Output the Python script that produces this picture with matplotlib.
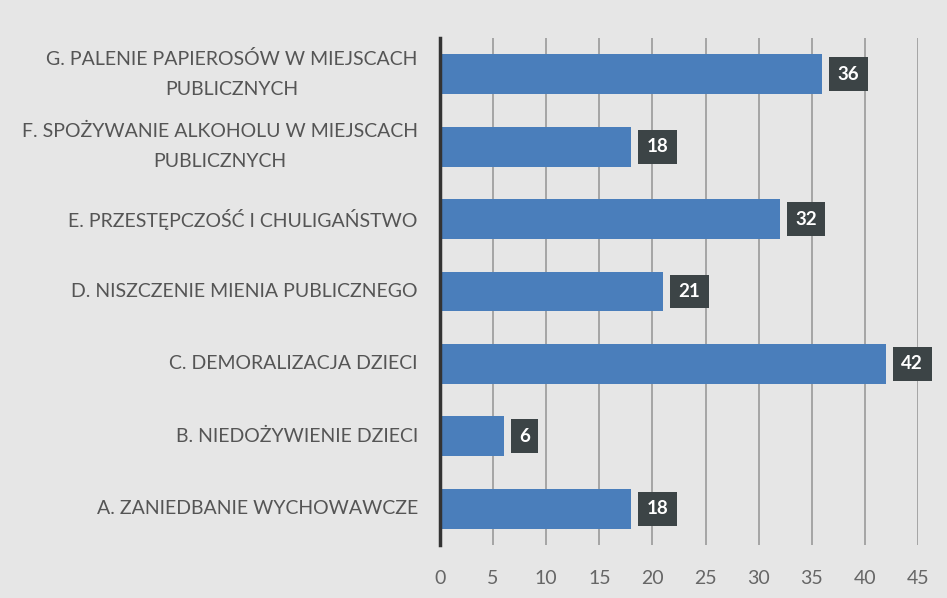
import matplotlib
matplotlib.use("Agg")
import matplotlib.pyplot as plt

categories = [
    "A. ZANIEDBANIE WYCHOWAWCZE",
    "B. NIEDOŻYWIENIE DZIECI",
    "C. DEMORALIZACJA DZIECI",
    "D. NISZCZENIE MIENIA PUBLICZNEGO",
    "E. PRZESTĘPCZOŚĆ I CHULIGAŃSTWO",
    "F. SPOŻYWANIE ALKOHOLU W MIEJSCACH\nPUBLICZNYCH",
    "G. PALENIE PAPIEROSÓW W MIEJSCACH\nPUBLICZNYCH",
]
values = [18, 6, 42, 21, 32, 18, 36]
xticks = [0, 5, 10, 15, 20, 25, 30, 35, 40, 45]

plt.rcParams['font.family'] = ['Lato', 'DejaVu Sans']

fig = plt.figure(figsize=(9.47, 5.98), dpi=100, facecolor="#e6e6e6")
ax = fig.add_axes([0.4646, 0.0886, 0.5048, 0.8479])
ax.set_facecolor("#e6e6e6")

ypos = list(range(len(categories)))
ax.barh(ypos, values, height=0.55, color="#4a7ebb", zorder=3)

for y, v in zip(ypos, values):
    ax.annotate(str(v), xy=(v, y), xytext=(11, 0), textcoords="offset points",
                ha="left", va="center", color="white", fontsize=13.5, fontweight="bold",
                bbox=dict(boxstyle="square,pad=0.45", fc="#3c4446", ec="none"), zorder=4)

ax.set_xlim(0, 45)
ax.set_ylim(-0.5, 6.5)
ax.set_xticks(xticks)
ax.set_yticks(ypos)
ax.set_yticklabels(categories, multialignment="center", linespacing=1.9, va="center")
ax.tick_params(axis="y", length=0, pad=16, labelsize=14, labelcolor="#555555")
ax.tick_params(axis="x", length=0, pad=18, labelsize=14, labelcolor="#666666")
ax.grid(axis="x", color="#9a9a9a", linewidth=1.2, zorder=0)
for s in ["top", "right", "bottom"]:
    ax.spines[s].set_visible(False)
ax.spines["left"].set_color("#333333")
ax.spines["left"].set_linewidth(2.5)
ax.spines["left"].set_zorder(5)

fig.savefig("out.png", dpi=100, facecolor=fig.get_facecolor())
